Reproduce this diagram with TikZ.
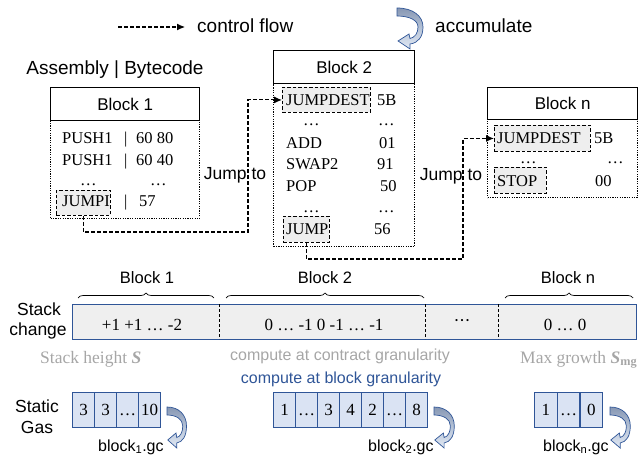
\documentclass[tikz,border=0pt]{standalone}
\usepackage{fontspec}
\setmainfont{Liberation Serif}
\setsansfont{Liberation Sans}
\usetikzlibrary{arrows.meta,decorations.pathreplacing}

\definecolor{boxblue}{HTML}{2F5597}
\definecolor{cellfill}{HTML}{DAE3F3}
\definecolor{barfill}{HTML}{EFEFEF}
\definecolor{hlfill}{HTML}{EEEEEE}
\definecolor{note}{HTML}{A6A6A6}
\definecolor{arrowtop}{HTML}{8797B3}
\definecolor{arrowmid}{HTML}{B7C4D8}
\definecolor{arrowbot}{HTML}{E2E9F4}

\newcommand\fsz[1]{\fontsize{#1}{#1}\selectfont}

\begin{document}
\begin{tikzpicture}[x=1pt,y=-1pt,
  hdr/.style={draw, line width=1.3pt, fill=white, inner sep=0pt, anchor=north west,
              font=\sffamily\fsz{17}},
  body/.style={draw, line width=1.2pt, dash pattern=on 1.2pt off 1.2pt, inner sep=0pt,
               anchor=north west},
  hl/.style={draw, fill=hlfill, line width=0.9pt, dash pattern=on 3.5pt off 2pt,
             inner sep=0pt, anchor=north west},
  code/.style={font=\fsz{16.5}, inner sep=0pt, anchor=base west},
  lbl/.style={font=\sffamily\fsz{17.5}, inner sep=0pt, anchor=base},
  flow/.style={line width=1.1pt, dash pattern=on 4pt off 2pt,
               -{Latex[length=8pt,width=7pt]}},
  divider/.style={line width=1pt, dash pattern=on 3pt off 2pt},
  brc/.style={decorate, decoration={brace, amplitude=5pt}, line width=0.7pt},
  gcell/.style={draw=boxblue, fill=cellfill, line width=1.3pt, minimum height=35pt,
                inner sep=0pt, anchor=north west, font=\fsz{17},
                text height=11.5pt, text depth=0pt},
  accum/.pic={
    \path[draw=boxblue, line width=0.7pt, top color=arrowtop, bottom color=arrowbot,
          middle color=arrowmid]
      (0,0) .. controls (16,0) and (26,8) .. (26,19)
      .. controls (26,29) and (21,35) .. (13,36)
      -- (13,41) -- (1,33) -- (12,26) -- (13,30.5)
      .. controls (18,29.5) and (21,25) .. (21,19)
      .. controls (21,12) and (12,8) .. (0,8) -- cycle;
  }]
\useasboundingbox (0,0) rectangle (639,462);

% ---- legend ----
\coordinate (lg0) at (118,27);
\coordinate (lg1) at (185,27);
\draw[flow] (lg0) -- (lg1);
\node[lbl, font=\sffamily\fsz{19}, anchor=base west] (lgtext) at (197,33) {control flow};
\pic at (397,8) {accum};
\node[lbl, font=\sffamily\fsz{19}, anchor=base west] (acctext) at (435,33) {accumulate};

\node[lbl, font=\sffamily\fsz{19}] (asm) at (115,75) {Assembly | Bytecode};

% ---- Block 1 ----
\node[body, minimum width=149pt, minimum height=98pt] (b1) at (50,120) {};
\node[hdr, minimum width=149pt, minimum height=33pt] (h1) at (50,87) {Block 1};
\node[hl, minimum width=54pt, minimum height=25pt] (jumpi) at (56,190) {};
\node[code] at (62,144) {PUSH1};
\node[code] at (124,144) {|};
\node[code] at (136,144) {60 80};
\node[code] at (62,166) {PUSH1};
\node[code] at (124,166) {|};
\node[code] at (136,166) {60 40};
\node[code] at (80,186) {…};
\node[code] at (150,186) {…};
\node[code] at (62,207) {JUMPI};
\node[code] at (124,207) {|};
\node[code] at (139,207) {57};

% ---- Block 2 ----
\node[body, minimum width=141pt, minimum height=163pt] (b2) at (273,83) {};
\node[hdr, minimum width=141pt, minimum height=33pt] (h2) at (273,50) {Block 2};
\node[hl, minimum width=88pt, minimum height=25pt] (jd2) at (282,87) {};
\node[hl, minimum width=46pt, minimum height=26pt] (jump2) at (283,216) {};
\node[code] at (286,106) {JUMPDEST};
\node[code] at (377,106) {5B};
\node[code] at (303,126) {…};
\node[code] at (378,126) {…};
\node[code] at (286,149) {ADD};
\node[code] at (379,149) {01};
\node[code] at (286,170) {SWAP2};
\node[code] at (377,170) {91};
\node[code] at (286,192) {POP};
\node[code] at (380,192) {50};
\node[code] at (303,213) {…};
\node[code] at (378,213) {…};
\node[code] at (286,234) {JUMP};
\node[code] at (374,234) {56};

% ---- Block n ----
\node[body, minimum width=150pt, minimum height=78pt] (bn) at (487,119) {};
\node[hdr, minimum width=150pt, minimum height=32pt] (hn) at (487,87) {Block n};
\node[hl, minimum width=96pt, minimum height=26pt] (jdn) at (494,125) {};
\node[hl, minimum width=52pt, minimum height=26pt] (stop) at (494,167) {};
\node[code] at (497,144) {JUMPDEST};
\node[code] at (594,144) {5B};
\node[code] at (520,164) {…};
\node[code] at (607,164) {…};
\node[code] at (497,187) {STOP};
\node[code] at (595,187) {00};

% ---- jumps between blocks ----
\node[lbl] (jt1) at (235,180) {Jump to};
\node[lbl] (jt2) at (451,181) {Jump to};
\coordinate (k1) at (248,232);
\coordinate (k2) at (463,259);
\draw[flow] (jumpi.south) |- (k1) |- (jd2.west);
\draw[flow] (jump2.south) |- (k2) |- (jdn.west);

% ---- stack change bar ----
\node[lbl, font=\sffamily\fsz{16.5}] (bl1) at (147,283) {Block 1};
\node[lbl, font=\sffamily\fsz{16.5}] (bl2) at (325,283) {Block 2};
\node[lbl, font=\sffamily\fsz{16.5}] (bln) at (568,283) {Block n};
\draw[brc] (78,298) -- (214,298);
\draw[brc] (226,298) -- (424,298);
\draw[brc] (505,298) -- (633,298);

\node[draw=boxblue, fill=barfill, line width=1.3pt, minimum width=564pt,
      minimum height=35pt, anchor=north west, inner sep=0pt] (bar) at (72,304) {};
\draw[divider] (219,304) -- (219,339);
\draw[divider] (425,304) -- (425,339);
\draw[divider] (498,304) -- (498,339);
\node[font=\fsz{17}, anchor=base, inner sep=0pt] at (142,330) {+1 +1 … -2};
\node[font=\fsz{17}, anchor=base, inner sep=0pt] at (324,330) {0 … -1 0 -1 … -1};
\node[font=\fsz{18}, anchor=base, inner sep=0pt] at (462,326) {·\kern-0.5pt·\kern-0.5pt·};
\node[font=\fsz{17}, anchor=base, inner sep=0pt] at (565,330) {0 … 0};

\node[lbl] at (39,315) {Stack};
\node[lbl] at (38,335) {change};

\node[font=\fsz{17.5}, text=note, anchor=base west, inner sep=0pt] at (40,363)
  {Stack height \textbf{\textit{S}}};
\node[font=\sffamily\fsz{16}, text=note, anchor=base, inner sep=0pt] at (340,360)
  {compute at contract granularity};
\node[font=\fsz{17.5}, text=note, anchor=base west, inner sep=0pt] at (520,363)
  {Max growth \textbf{\textit{S}}\textsubscript{\textbf{mg}}};
\node[font=\sffamily\fsz{16}, text=boxblue, anchor=base, inner sep=0pt] at (341,383)
  {compute at block granularity};

% ---- static gas ----
\node[lbl] at (37,412) {Static};
\node[lbl] at (37,433) {Gas};

\node[gcell, minimum width=22pt] (g1a) at (72,392) {3};
\node[gcell, minimum width=22pt] (g1b) at (94,392) {3};
\node[gcell, minimum width=22pt] (g1c) at (116,392) {…};
\node[gcell, minimum width=22pt] (g1d) at (138,392) {10};
\pic[xscale=0.75] at (167,407) {accum};
\node[font=\sffamily\fsz{16}, anchor=base west, inner sep=0pt] at (98,451)
  {block\textsubscript{1}.gc};

\node[gcell, minimum width=22pt] (g2a) at (273,392) {1};
\node[gcell, minimum width=22pt] (g2b) at (295,392) {…};
\node[gcell, minimum width=22pt] (g2c) at (317,392) {3};
\node[gcell, minimum width=22pt] (g2d) at (339,392) {4};
\node[gcell, minimum width=22pt] (g2e) at (361,392) {2};
\node[gcell, minimum width=22pt] (g2f) at (383,392) {…};
\node[gcell, minimum width=22pt] (g2g) at (405,392) {8};
\pic[xscale=0.78] at (434,407) {accum};
\node[font=\sffamily\fsz{16}, anchor=base west, inner sep=0pt] at (368,451)
  {block\textsubscript{2}.gc};

\node[gcell, minimum width=22.67pt] (gna) at (534,392) {1};
\node[gcell, minimum width=22.67pt] (gnb) at (556.67,392) {…};
\node[gcell, minimum width=22.67pt] (gnc) at (579.33,392) {0};
\pic[xscale=0.78] at (610,407) {accum};
\node[font=\sffamily\fsz{16}, anchor=base west, inner sep=0pt] at (543,451)
  {block\textsubscript{n}.gc};
\end{tikzpicture}
\end{document}
